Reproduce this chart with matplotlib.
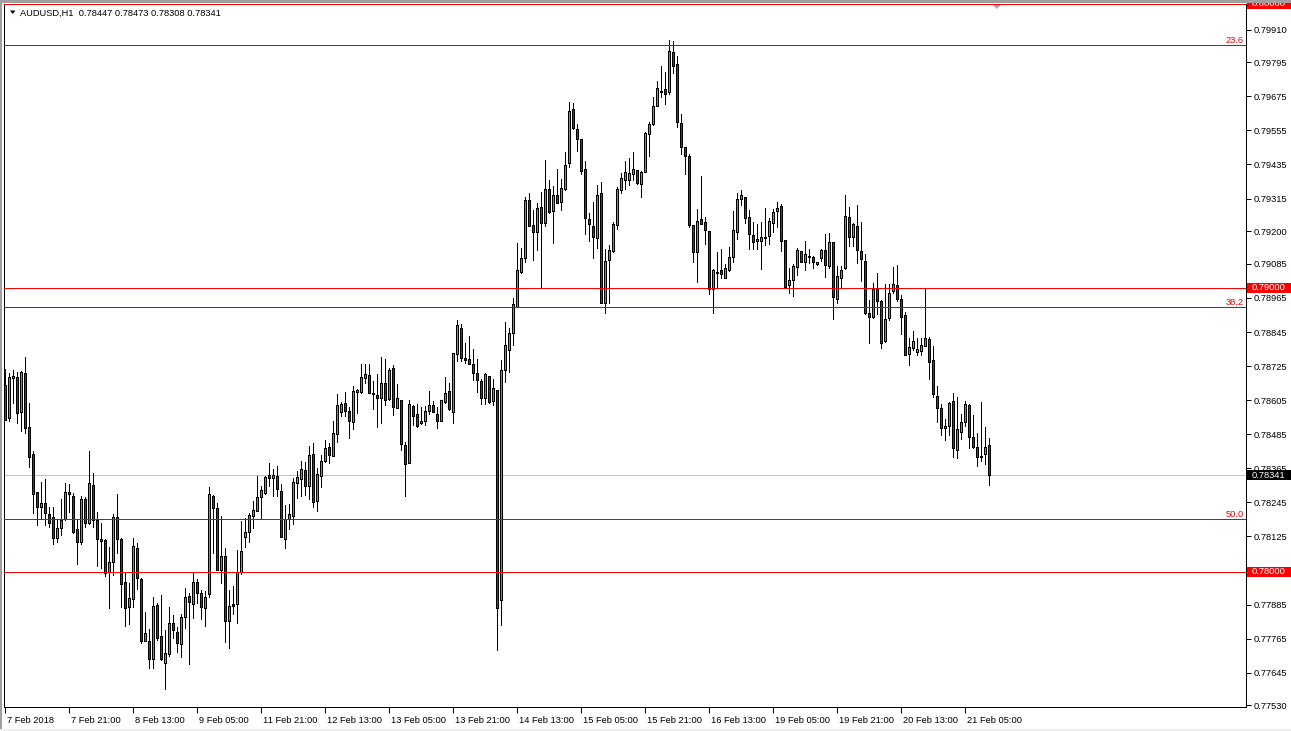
import numpy as np
import matplotlib
matplotlib.use("Agg")
import matplotlib.pyplot as plt
from matplotlib.patches import Rectangle, Polygon
from matplotlib.transforms import ScaledTranslation, IdentityTransform, blended_transform_factory

plt.rcParams['font.family'] = ['Liberation Sans', 'DejaVu Sans']

title_text = "AUDUSD,H1  0.78447 0.78473 0.78308 0.78341"

open_ = [0.78659,0.78543,0.78683,0.78687,0.78564,0.78701,0.78511,0.78416,0.78282,0.78229,
         0.78243,0.78205,0.78194,0.78120,0.78155,0.78187,0.78282,0.78268,0.78152,0.78106,
         0.78258,0.78173,0.78307,0.78184,0.78117,0.78113,0.78001,0.78036,0.78194,0.78117,
         0.77965,0.77877,0.77905,0.78085,0.77976,0.77758,0.77758,0.77694,0.77884,0.77775,
         0.77680,0.77712,0.77821,0.77789,0.77747,0.77842,0.77916,0.77888,0.77965,0.77927,
         0.77874,0.77923,0.78268,0.78226,0.78008,0.78057,0.77828,0.77888,0.77888,0.78001,
         0.78124,0.78141,0.78198,0.78215,0.78265,0.78279,0.78342,0.78331,0.78338,0.78286,
         0.78117,0.78187,0.78198,0.78314,0.78328,0.78360,0.78303,0.78416,0.78250,0.78338,
         0.78391,0.78441,0.78409,0.78486,0.78564,0.78595,0.78567,0.78529,0.78634,0.78634,
         0.78683,0.78694,0.78631,0.78624,0.78613,0.78666,0.78610,0.78719,0.78578,0.78606,
         0.78448,0.78384,0.78585,0.78557,0.78525,0.78532,0.78567,0.78588,0.78557,0.78532,
         0.78599,0.78638,0.78564,0.78768,0.78859,0.78754,0.78750,0.78733,0.78701,0.78673,
         0.78613,0.78690,0.78602,0.78641,0.77902,0.78712,0.78782,0.78842,0.78933,0.79057,
         0.79106,0.79310,0.79222,0.79197,0.79285,0.79229,0.79349,0.79271,0.79328,0.79303,
         0.79349,0.79440,0.79630,0.79560,0.79525,0.79419,0.79243,0.79218,0.79176,0.79335,
         0.78947,0.79099,0.79131,0.79222,0.79345,0.79380,0.79380,0.79402,0.79416,0.79366,
         0.79409,0.79542,0.79578,0.79641,0.79690,0.79701,0.79690,0.79831,0.79789,0.79581,
         0.79497,0.79465,0.79222,0.79127,0.79243,0.79233,0.79201,0.78997,0.79057,0.79064,
         0.79035,0.79064,0.79109,0.79197,0.79314,0.79321,0.79250,0.79187,0.79166,0.79166,
         0.79176,0.79183,0.79229,0.79271,0.79289,0.79169,0.79011,0.79028,0.79074,0.79131,
         0.79092,0.79109,0.79109,0.79085,0.79106,0.79134,0.79078,0.79162,0.78962,0.79035,
         0.79071,0.79250,0.79180,0.79218,0.79131,0.79095,0.78912,0.78898,0.78997,0.78955,
         0.78814,0.78895,0.78990,0.79011,0.78962,0.78905,0.78768,0.78789,0.78775,0.78779,
         0.78796,0.78821,0.78747,0.78620,0.78578,0.78507,0.78514,0.78602,0.78430,0.78493,
         0.78529,0.78588,0.78476,0.78441,0.78405,0.78416,0.78447]

high = [0.78715,0.78701,0.78712,0.78705,0.78708,0.78757,0.78595,0.78427,0.78282,0.78317,
        0.78328,0.78229,0.78229,0.78184,0.78258,0.78314,0.78310,0.78279,0.78187,0.78268,
        0.78265,0.78427,0.78349,0.78212,0.78173,0.78117,0.78089,0.78205,0.78275,0.78120,
        0.77997,0.77962,0.78120,0.78103,0.77979,0.77860,0.77800,0.77913,0.77891,0.77920,
        0.77796,0.77877,0.77849,0.77807,0.77853,0.77944,0.77927,0.77997,0.77976,0.77937,
        0.77934,0.78300,0.78272,0.78243,0.78198,0.78085,0.77937,0.77951,0.78078,0.78180,
        0.78191,0.78208,0.78250,0.78338,0.78303,0.78338,0.78384,0.78363,0.78374,0.78310,
        0.78236,0.78240,0.78331,0.78356,0.78391,0.78388,0.78444,0.78455,0.78367,0.78412,
        0.78465,0.78455,0.78532,0.78627,0.78599,0.78634,0.78581,0.78655,0.78645,0.78733,
        0.78733,0.78733,0.78673,0.78697,0.78757,0.78750,0.78719,0.78729,0.78662,0.78606,
        0.78458,0.78606,0.78588,0.78592,0.78581,0.78585,0.78638,0.78602,0.78581,0.78606,
        0.78687,0.78666,0.78771,0.78888,0.78873,0.78807,0.78831,0.78785,0.78750,0.78680,
        0.78701,0.78690,0.78680,0.78641,0.78746,0.78881,0.78859,0.78965,0.79159,0.79141,
        0.79321,0.79335,0.79275,0.79299,0.79338,0.79451,0.79380,0.79359,0.79419,0.79384,
        0.79479,0.79655,0.79651,0.79578,0.79525,0.79447,0.79264,0.79303,0.79363,0.79373,
        0.79138,0.79152,0.79233,0.79356,0.79405,0.79447,0.79458,0.79479,0.79416,0.79412,
        0.79549,0.79585,0.79673,0.79729,0.79782,0.79761,0.79873,0.79870,0.79817,0.79613,
        0.79497,0.79472,0.79222,0.79278,0.79395,0.79250,0.79201,0.79067,0.79127,0.79138,
        0.79085,0.79145,0.79271,0.79335,0.79345,0.79321,0.79275,0.79233,0.79226,0.79233,
        0.79282,0.79247,0.79278,0.79303,0.79296,0.79169,0.79071,0.79085,0.79141,0.79131,
        0.79166,0.79138,0.79113,0.79092,0.79138,0.79190,0.79194,0.79162,0.79078,0.79078,
        0.79328,0.79285,0.79229,0.79292,0.79233,0.79120,0.78958,0.79018,0.79053,0.78958,
        0.79014,0.79014,0.79074,0.79081,0.78976,0.78916,0.78824,0.78849,0.78824,0.78824,
        0.79000,0.78828,0.78796,0.78655,0.78592,0.78539,0.78599,0.78631,0.78617,0.78557,
        0.78602,0.78592,0.78553,0.78490,0.78599,0.78511,0.78473]

low = [0.78536,0.78532,0.78595,0.78525,0.78497,0.78490,0.78370,0.78208,0.78166,0.78187,
       0.78166,0.78159,0.78099,0.78106,0.78131,0.78184,0.78212,0.78138,0.78029,0.78099,
       0.78159,0.78170,0.78159,0.78022,0.78015,0.77987,0.77874,0.77990,0.78067,0.77877,
       0.77810,0.77817,0.77877,0.77941,0.77751,0.77758,0.77663,0.77663,0.77761,0.77691,
       0.77589,0.77705,0.77768,0.77719,0.77701,0.77803,0.77677,0.77839,0.77891,0.77835,
       0.77810,0.77913,0.78067,0.78008,0.77962,0.77754,0.77733,0.77853,0.77821,0.77994,
       0.78089,0.78106,0.78155,0.78215,0.78187,0.78275,0.78303,0.78268,0.78268,0.78124,
       0.78085,0.78152,0.78170,0.78261,0.78268,0.78272,0.78258,0.78229,0.78215,0.78300,
       0.78388,0.78384,0.78409,0.78458,0.78550,0.78550,0.78472,0.78504,0.78560,0.78631,
       0.78666,0.78631,0.78574,0.78511,0.78525,0.78588,0.78606,0.78553,0.78578,0.78430,
       0.78268,0.78384,0.78518,0.78511,0.78521,0.78518,0.78557,0.78564,0.78507,0.78532,
       0.78595,0.78571,0.78525,0.78743,0.78743,0.78736,0.78733,0.78676,0.78634,0.78592,
       0.78592,0.78595,0.78588,0.77726,0.77814,0.78669,0.78705,0.78800,0.78933,0.79053,
       0.79092,0.79218,0.79099,0.79134,0.79000,0.79218,0.79264,0.79159,0.79299,0.79275,
       0.79345,0.79426,0.79560,0.79483,0.79402,0.79190,0.79166,0.79106,0.79141,0.78947,
       0.78912,0.78947,0.79127,0.79208,0.79335,0.79349,0.79363,0.79380,0.79366,0.79321,
       0.79409,0.79465,0.79574,0.79641,0.79673,0.79648,0.79683,0.79757,0.79567,0.79472,
       0.79402,0.79215,0.79092,0.79021,0.79226,0.79155,0.78979,0.78912,0.79000,0.79035,
       0.79035,0.79060,0.79092,0.79173,0.79292,0.79229,0.79138,0.79138,0.79138,0.79067,
       0.79152,0.79155,0.79197,0.79215,0.79131,0.79000,0.78983,0.78972,0.79046,0.79092,
       0.79064,0.79088,0.79071,0.79082,0.79095,0.79039,0.79071,0.78891,0.78947,0.79000,
       0.79067,0.79148,0.79148,0.79088,0.79025,0.78909,0.78807,0.78895,0.78909,0.78789,
       0.78810,0.78888,0.78983,0.78955,0.78838,0.78764,0.78729,0.78782,0.78764,0.78764,
       0.78796,0.78680,0.78617,0.78529,0.78483,0.78465,0.78483,0.78405,0.78402,0.78469,
       0.78514,0.78437,0.78437,0.78374,0.78391,0.78381,0.78308]

close = [0.78536,0.78687,0.78690,0.78560,0.78705,0.78507,0.78405,0.78275,0.78229,0.78243,
         0.78208,0.78173,0.78120,0.78155,0.78184,0.78282,0.78275,0.78141,0.78106,0.78258,
         0.78173,0.78314,0.78184,0.78117,0.78110,0.77997,0.78036,0.78194,0.78117,0.77958,
         0.77874,0.77909,0.78092,0.77979,0.77758,0.77786,0.77694,0.77881,0.77768,0.77694,
         0.77715,0.77821,0.77796,0.77751,0.77842,0.77913,0.77895,0.77965,0.77927,0.77877,
         0.77913,0.78275,0.78226,0.78008,0.78057,0.77828,0.77881,0.77881,0.78001,0.78075,
         0.78141,0.78201,0.78219,0.78265,0.78289,0.78335,0.78331,0.78342,0.78293,0.78124,
         0.78187,0.78205,0.78317,0.78335,0.78363,0.78303,0.78412,0.78247,0.78346,0.78391,
         0.78437,0.78412,0.78490,0.78588,0.78592,0.78567,0.78532,0.78638,0.78641,0.78687,
         0.78697,0.78631,0.78627,0.78613,0.78666,0.78606,0.78712,0.78581,0.78613,0.78451,
         0.78381,0.78592,0.78550,0.78514,0.78532,0.78567,0.78588,0.78564,0.78532,0.78606,
         0.78631,0.78574,0.78771,0.78870,0.78754,0.78747,0.78733,0.78701,0.78676,0.78613,
         0.78697,0.78599,0.78648,0.77874,0.78712,0.78800,0.78842,0.78944,0.79064,0.79106,
         0.79310,0.79218,0.79197,0.79282,0.79229,0.79349,0.79268,0.79328,0.79299,0.79352,
         0.79433,0.79623,0.79563,0.79525,0.79412,0.79247,0.79226,0.79180,0.79328,0.78947,
         0.79095,0.79134,0.79226,0.79349,0.79387,0.79409,0.79405,0.79419,0.79370,0.79409,
         0.79546,0.79578,0.79641,0.79704,0.79694,0.79683,0.79834,0.79782,0.79585,0.79497,
         0.79465,0.79222,0.79127,0.79236,0.79226,0.79204,0.78997,0.79064,0.79053,0.79050,
         0.79071,0.79109,0.79204,0.79314,0.79328,0.79247,0.79190,0.79162,0.79173,0.79180,
         0.79180,0.79236,0.79268,0.79282,0.79166,0.79004,0.79028,0.79078,0.79134,0.79092,
         0.79120,0.79113,0.79092,0.79092,0.79134,0.79081,0.79162,0.78969,0.79042,0.79064,
         0.79254,0.79180,0.79226,0.79134,0.79102,0.78912,0.78898,0.78997,0.78955,0.78807,
         0.78891,0.78983,0.79014,0.78962,0.78898,0.78764,0.78793,0.78814,0.78785,0.78800,
         0.78824,0.78740,0.78627,0.78578,0.78507,0.78514,0.78595,0.78437,0.78504,0.78529,
         0.78592,0.78476,0.78441,0.78405,0.78409,0.78441,0.78341]

time_tick_index = [0, 16, 32, 48, 64, 80, 96, 112, 128, 144, 160, 176, 192, 208, 224, 240]
time_tick_labels = ["7 Feb 2018", "7 Feb 21:00", "8 Feb 13:00", "9 Feb 05:00",
                    "11 Feb 21:00", "12 Feb 13:00", "13 Feb 05:00", "13 Feb 21:00",
                    "14 Feb 13:00", "15 Feb 05:00", "15 Feb 21:00", "16 Feb 13:00",
                    "19 Feb 05:00", "19 Feb 21:00", "20 Feb 13:00", "21 Feb 05:00"]

price_ticks = [0.79910, 0.79795, 0.79675, 0.79555, 0.79435, 0.79315, 0.79200, 0.79085,
               0.78965, 0.78845, 0.78725, 0.78605, 0.78485, 0.78365, 0.78245, 0.78125,
               0.77885, 0.77765, 0.77645, 0.77530]

level_prices = [0.80000, 0.79000, 0.78000]
fibo_prices = [0.79856, 0.78933, 0.78187]
fibo_labels = ["23.6", "38.2", "50.0"]
bid_price = 0.78341

# ---------------------------------------------------------------
W, H, DPI = 1291, 731, 100
FS = 6.7
PX = 72.0 / DPI  # one pixel in points
fig = plt.figure(figsize=(W / DPI, H / DPI), dpi=DPI, facecolor='white')
ax = fig.add_axes([4 / W, (H - 707) / H, 1242 / W, 703 / H])
ax.set_facecolor('white')

o = np.array(open_); hi = np.array(high); lo = np.array(low); c = np.array(close)
idx = np.arange(len(o))
up = c >= o
BULL = '#1ed21e'
BEAR = '#e00000'

ax.vlines(idx, lo, hi, colors='black', linewidth=PX, antialiased=False, zorder=3)
ax.bar(idx, np.abs(c - o), bottom=np.minimum(o, c), width=0.55,
       color=np.where(up, BULL, BEAR), edgecolor='black', linewidth=PX * 0.9,
       antialiased=False, zorder=4)

ax.set_xlim(-0.25, 310.25)
ax.set_ylim(0.775246, 0.80000)

for p in level_prices:
    ax.axhline(p, color='#ff0000', linewidth=PX, antialiased=False, zorder=6)
for p in fibo_prices:
    ax.axhline(p, color='#e00000', linewidth=PX, antialiased=False, zorder=6)
ax.axhline(bid_price, color='#c0c0c0', linewidth=PX, antialiased=False, zorder=2)

btr = blended_transform_factory(ax.transAxes, ax.transData)
for p, lab in zip(fibo_prices, fibo_labels):
    ax.text(1 - 2 / 1242, p, lab, transform=btr, ha='right', va='bottom',
            color='#ff0000', fontsize=FS, zorder=7)

# axes styling
for s in ax.spines.values():
    s.set_color('black')
    s.set_linewidth(PX)

ax.yaxis.tick_right()
ax.set_yticks(price_ticks)
ax.set_yticklabels([f"{v:.5f}" for v in price_ticks])
ax.tick_params(axis='y', direction='out', length=3.5, width=PX, pad=2,
               labelsize=FS, colors='black', left=False, right=True)
ax.set_xticks(time_tick_index)
ax.set_xticklabels(time_tick_labels)
ax.tick_params(axis='x', direction='out', length=4, width=PX, pad=2.5,
               labelsize=FS, colors='black')
off = ScaledTranslation(2 / DPI, 0, fig.dpi_scale_trans)
for t in ax.get_xticklabels():
    t.set_horizontalalignment('left')
    t.set_transform(t.get_transform() + off)

# price boxes on right axis
def price_box(price, face, txt_color):
    yd = ax.transData.transform((0, price))[1]
    r = Rectangle((1247, yd - 5), 44, 10, transform=IdentityTransform(),
                  facecolor=face, edgecolor='none', zorder=10)
    fig.add_artist(r)
    fig.text(1252 / W, yd / H, f"{price:.5f}", color=txt_color, fontsize=FS,
             ha='left', va='center', zorder=11)

for p in level_prices:
    price_box(p, '#ff0000', 'white')
price_box(bid_price, 'black', 'white')

# title with triangle
fig.text(20 / W, 1 - 13 / H, title_text, fontsize=FS, ha='left', va='center', color='black')
tri = Polygon([(10, H - 10.5), (15.5, H - 10.5), (12.75, H - 14)], closed=True,
              transform=IdentityTransform(), facecolor='black', edgecolor='none')
fig.add_artist(tri)
tri2 = Polygon([(993, H - 5), (1000.5, H - 5), (996.75, H - 9)], closed=True,
               transform=IdentityTransform(), facecolor='#a8a8a8', edgecolor='none', zorder=12)
fig.add_artist(tri2)

# window frame
fig.add_artist(Rectangle((0, H - 2.5), W, 2.5, transform=IdentityTransform(),
                         facecolor='#a0a0a0', edgecolor='none', zorder=12))
fig.add_artist(Rectangle((0, 0), 1.5, H, transform=IdentityTransform(),
                         facecolor='#a0a0a0', edgecolor='none', zorder=12))
fig.add_artist(Rectangle((0, 0), W, 2.5, transform=IdentityTransform(),
                         facecolor='#f0f0f0', edgecolor='none', zorder=12))

fig.savefig("out.png", dpi=DPI, facecolor='white')
